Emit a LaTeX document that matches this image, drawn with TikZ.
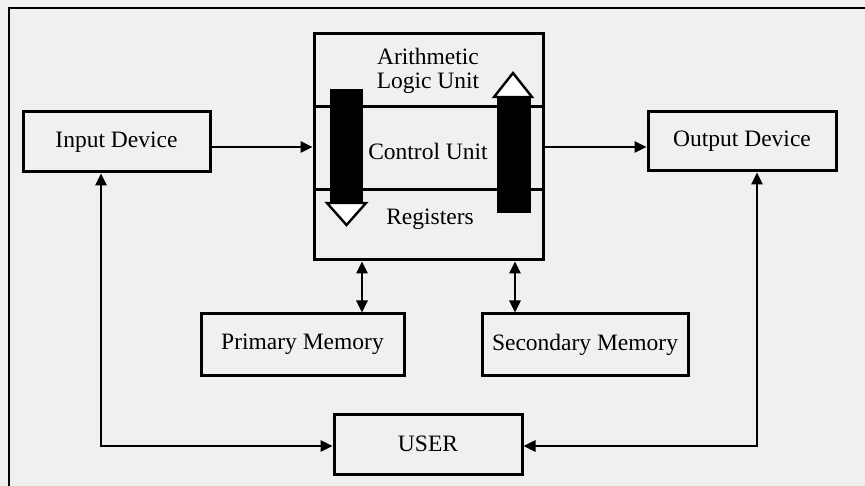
\documentclass[tikz,border=0pt]{standalone}
\usepackage{fontspec}
\setmainfont{Liberation Serif}
\usetikzlibrary{arrows.meta}
\begin{document}
\begin{tikzpicture}[x=1pt,y=-1pt,
  box/.style={draw=black,line width=3pt,inner sep=0pt,
    font=\fontsize{23.5}{24}\selectfont},
  txt/.style={inner sep=0pt,font=\fontsize{23.5}{24}\selectfont,align=center},
  conn/.style={line width=2.6pt,-{Triangle[length=12pt,width=11pt]}},
  dconn/.style={line width=2.6pt,{Triangle[length=12pt,width=11pt]}-{Triangle[length=12pt,width=11pt]}},
  bar/.style={fill=black},
  head/.style={fill=white,draw=black,line width=2.4pt,line join=miter}]
\useasboundingbox (0,0) rectangle (865,486);
\fill[black!6] (0,0) rectangle (865,486);
% outer frame
\draw[line width=2.6pt] (9,490) -- (9,8) -- (870,8);
% nodes
\node[box,minimum width=187pt,minimum height=60pt] (input) at (116.5,142) {Input Device};
\node[box,minimum width=188pt,minimum height=59pt] (output) at (742,141.5) {Output Device};
\node[box,minimum width=229pt,minimum height=226pt] (cpu) at (428.5,147) {};
\node[box,minimum width=203pt,minimum height=61pt] (primary) at (302.5,344.5) {Primary Memory};
\node[box,minimum width=206pt,minimum height=61pt] (secondary) at (585,344.5) {Secondary Memory};
\node[box,minimum width=188pt,minimum height=60pt] (user) at (428,444) {USER};
% CPU internals
\draw[line width=3pt] (cpu.west |- 0,107) -- (cpu.east |- 0,107);
\draw[line width=3pt] (cpu.west |- 0,190) -- (cpu.east |- 0,190);
\node[txt] (alu) at (428,71) {Arithmetic\\Logic Unit};
\node[txt] (cu) at (428,151) {Control Unit};
\node[txt] (reg) at (430,219) {Registers};
\fill[bar] (330,89) rectangle (363,203);
\draw[head] (327,203) -- (366,203) -- (346.5,225) -- cycle;
\fill[bar] (497,97) rectangle (531,213);
\draw[head] (494,97) -- (532,97) -- (513,73) -- cycle;
% connectors
\draw[conn] ([yshift=-5pt]input.east) -- ([yshift=-5pt]input.east -| cpu.west);
\draw[conn] (cpu.east) -- (cpu.east -| output.west);
\coordinate (pmx) at (362,300);
\coordinate (smx) at (515,300);
\draw[dconn] (pmx |- cpu.south) -- (pmx |- primary.north);
\draw[dconn] (smx |- cpu.south) -- (smx |- secondary.north);
\coordinate (c1) at (101,446);
\coordinate (c2) at (757,446);
\draw[dconn,line join=miter] (c1 |- input.south) -- (c1) -- (c1 -| user.west);
\draw[dconn,line join=miter] (c2 |- output.south) -- (c2) -- (c2 -| user.east);
\end{tikzpicture}
\end{document}
